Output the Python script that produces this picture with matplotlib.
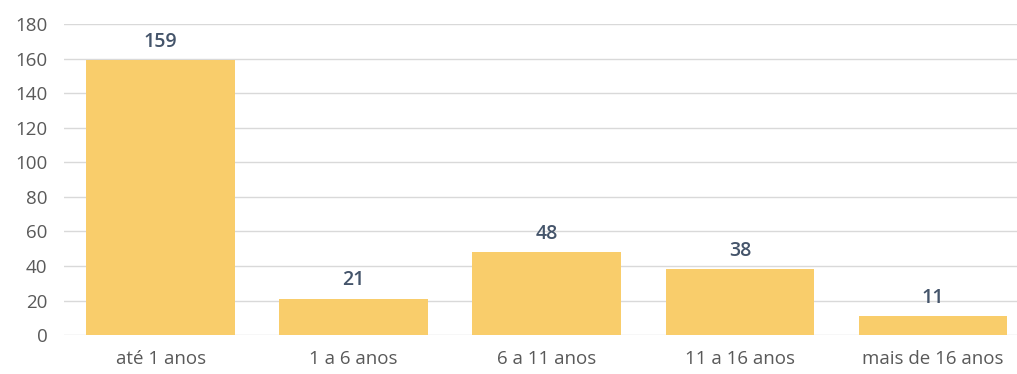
import matplotlib.pyplot as plt

categorias = ["até 1 anos", "1 a 6 anos", "6 a 11 anos", "11 a 16 anos", "mais de 16 anos"]
valores = [159, 21, 48, 38, 11]
ticks_y = [0, 20, 40, 60, 80, 100, 120, 140, 160, 180]

plt.rcParams['font.family'] = ['Open Sans', 'DejaVu Sans']

fig = plt.figure(figsize=(10.17, 3.74), dpi=100)
ax = fig.add_axes([0.063, 0.104, 0.937, 0.832])

x = range(len(categorias))
barras = ax.bar(x, valores, width=0.77, color='#F9CD6B', zorder=2)

for b, v in zip(barras, valores):
    ax.annotate(str(v), (b.get_x() + b.get_width() / 2, v), xytext=(0, 6),
                textcoords='offset points', ha='center', va='bottom',
                fontsize=14, color='#44546A', fontweight='semibold')

ax.set_xlim(-0.5, 4.435)
ax.set_ylim(0, 180)
ax.set_yticks(ticks_y)
ax.set_xticks(list(x))
ax.set_xticklabels(categorias)
ax.tick_params(axis='both', length=0, labelsize=13.5, colors='#595959')
ax.tick_params(axis='x', pad=11)
ax.tick_params(axis='y', pad=12)
ax.grid(axis='y', color='#D9D9D9', linewidth=1, zorder=0)
for s in ax.spines.values():
    s.set_visible(False)

fig.savefig('out.png', dpi=100)
